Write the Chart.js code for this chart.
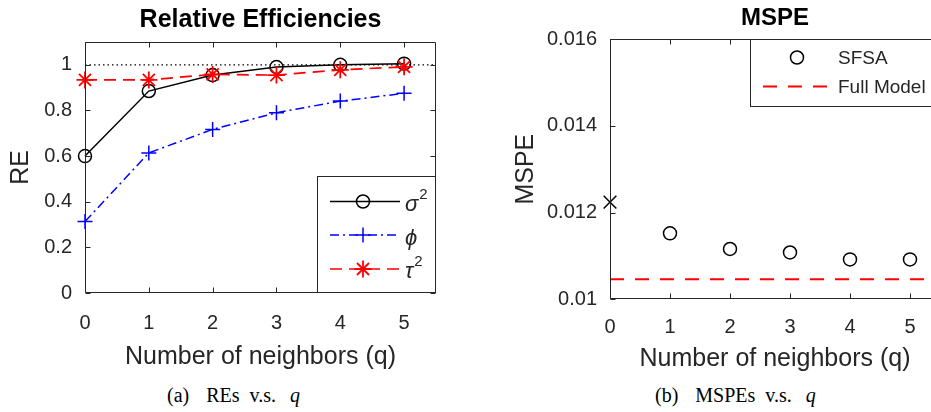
<!DOCTYPE html>
<html><head><meta charset="utf-8">
<script src="https://cdn.jsdelivr.net/npm/chart.js@4.4.1/dist/chart.umd.min.js"></script>
<style>
html,body{margin:0;padding:0;background:#fff;overflow:hidden;width:931px;height:412px;position:relative;}
#c1{position:absolute;left:0;top:0;}
#c2{position:absolute;left:480px;top:0;}
.cap{position:absolute;top:384px;font-family:"Liberation Serif","Times New Roman",serif;font-size:20px;color:#000;white-space:nowrap;line-height:22px;}
.cap i{font-style:italic;}
</style></head><body>
<canvas id="c1" width="465" height="375"></canvas>
<canvas id="c2" width="500" height="375"></canvas>
<div class="cap" style="left:167px">(a)<span style="margin-left:17px">REs</span><span style="margin-left:10px">v.s.</span><span style="margin-left:14px"><i>q</i></span></div>
<div class="cap" style="left:655px">(b)<span style="margin-left:17px">MSPEs</span><span style="margin-left:10px">v.s.</span><span style="margin-left:14px"><i>q</i></span></div>
<script>
// ---------- data ----------
const neighbors = [0, 1, 2, 3, 4, 5];
const xTickLabels = ['0', '1', '2', '3', '4', '5'];
const reSigma2 = [0.600, 0.885, 0.955, 0.990, 1.000, 1.005];
const rePhi    = [0.313, 0.614, 0.717, 0.790, 0.841, 0.875];
const reTau2   = [0.934, 0.934, 0.958, 0.955, 0.978, 0.991];
const reReferenceLevel = 1;
const reTicks = [0, 0.2, 0.4, 0.6, 0.8, 1];
const reTickLabels = ['0', '0.2', '0.4', '0.6', '0.8', '1'];

const sfsaNeighbors = [1, 2, 3, 4, 5];
const mspeSFSA = [0.01152, 0.01116, 0.01108, 0.01092, 0.01092];
const mspeAtZero = 0.01224;
const mspeFullModel = 0.01046;
const mspeTicks = [0.010, 0.012, 0.014, 0.016];
const mspeTickLabels = ['0.01', '0.012', '0.014', '0.016'];

// ---------- style ----------
const FONT = '"Liberation Sans", Arial, Helvetica, sans-serif';
const AX = '#262626';
Chart.defaults.font.family = FONT;
Chart.defaults.color = AX;

function setTicks(values) {
  return (s) => { s.ticks = values.map(v => ({ value: v })); };
}

const mlAxes = {
  id: 'mlAxes',
  afterDatasetsDraw(chart, args, opts) {
    const { ctx, chartArea: a, scales } = chart;
    ctx.save();
    ctx.strokeStyle = AX;
    ctx.lineWidth = 1;
    ctx.setLineDash([]);
    ctx.beginPath();
    const L = Math.round(a.left) + 0.5, R = Math.round(a.right) - 0.5;
    const T = Math.round(a.top) + 0.5, B = Math.round(a.bottom) - 0.5;
    ctx.rect(L, T, R - L, B - T);
    const tl = 5;
    scales.x.ticks.forEach(t => {
      const px = Math.round(scales.x.getPixelForValue(t.value)) + 0.5;
      ctx.moveTo(px, B); ctx.lineTo(px, B - tl);
      ctx.moveTo(px, T); ctx.lineTo(px, T + tl);
    });
    scales.y.ticks.forEach(t => {
      const py = Math.round(scales.y.getPixelForValue(t.value)) + 0.5;
      ctx.moveTo(L, py); ctx.lineTo(L + tl, py);
      ctx.moveTo(R, py); ctx.lineTo(R - tl, py);
    });
    ctx.stroke();
    if (opts.title) {
      ctx.fillStyle = '#000';
      ctx.font = 'bold ' + opts.titleSize + 'px ' + FONT;
      ctx.textAlign = 'center';
      ctx.textBaseline = 'middle';
      ctx.fillText(opts.title, (a.left + a.right) / 2, opts.titleY);
    }
    ctx.restore();
  }
};

const mlLegend = {
  id: 'mlLegend',
  afterDraw(chart, args, opts) {
    if (!opts.box) return;
    const { ctx } = chart;
    const [x1, y1, x2, y2] = opts.box;
    ctx.save();
    ctx.fillStyle = '#fff';
    ctx.fillRect(x1, y1, x2 - x1, y2 - y1);
    ctx.strokeStyle = AX;
    ctx.lineWidth = 1;
    ctx.setLineDash([]);
    ctx.strokeRect(Math.round(x1) + 0.5, Math.round(y1) + 0.5, Math.round(x2 - x1) - 1, Math.round(y2 - y1) - 1);
    opts.items.forEach(it => {
      const ds = chart.data.datasets[it.ds];
      if (it.lineX) {
        ctx.save();
        ctx.strokeStyle = ds.borderColor;
        ctx.lineWidth = ds.borderWidth;
        ctx.setLineDash(ds.borderDash || []);
        ctx.beginPath();
        ctx.moveTo(it.lineX[0], it.y); ctx.lineTo(it.lineX[1], it.y);
        ctx.stroke();
        ctx.restore();
      }
      if (it.markerX !== undefined) {
        ctx.save();
        ctx.strokeStyle = ds.pointBorderColor || ds.borderColor;
        ctx.fillStyle = 'rgba(0,0,0,0)';
        ctx.lineWidth = ds.pointBorderWidth;
        ctx.setLineDash([]);
        Chart.helpers.drawPoint(ctx, { pointStyle: ds.pointStyle, radius: ds.pointRadius, rotation: 0, borderWidth: ds.pointBorderWidth }, it.markerX, it.y);
        ctx.restore();
      }
      ctx.fillStyle = AX;
      ctx.textAlign = 'left';
      ctx.textBaseline = 'middle';
      if (it.greek) {
        ctx.font = 'italic 22px ' + FONT;
        ctx.fillText(it.greek, it.textX, it.y + it.dy);
        const w = ctx.measureText(it.greek).width;
        if (it.sup) {
          ctx.font = '15px ' + FONT;
          ctx.fillText(it.sup, it.textX + w + 1, it.y + it.dy - 10);
        }
      } else {
        ctx.font = '19px ' + FONT;
        ctx.fillText(it.label, it.textX, it.y + 1);
      }
    });
    ctx.restore();
  }
};

// ---------- chart (a) ----------
new Chart(document.getElementById('c1'), {
  type: 'line',
  data: {
    datasets: [
      { label: 'reference', data: [{ x: 0, y: reReferenceLevel }, { x: 5.5, y: reReferenceLevel }],
        borderColor: '#000', borderWidth: 1.3, borderDash: [1.5, 3], pointRadius: 0, order: 4, clip: false },
      { label: 'σ²', data: neighbors.map((q, i) => ({ x: q, y: reSigma2[i] })),
        borderColor: '#000', borderWidth: 1.5, pointStyle: 'circle', pointRadius: 6.5, pointBorderWidth: 1.5,
        pointBorderColor: '#000', pointBackgroundColor: 'rgba(0,0,0,0)', order: 3, clip: false },
      { label: 'φ', data: neighbors.map((q, i) => ({ x: q, y: rePhi[i] })),
        borderColor: '#0000ff', borderWidth: 1.5, borderDash: [9, 4, 2, 4], pointStyle: 'cross', pointRadius: 7.5,
        pointBorderWidth: 1.5, pointBorderColor: '#0000ff', order: 2, clip: false },
      { label: 'τ²', data: neighbors.map((q, i) => ({ x: q, y: reTau2[i] })),
        borderColor: '#ff0000', borderWidth: 1.7, borderDash: [12, 7], pointStyle: 'star', pointRadius: 8.5,
        pointBorderWidth: 1.8, pointBorderColor: '#ff0000', order: 1, clip: false }
    ]
  },
  options: {
    responsive: false, animation: false, events: [],
    layout: { padding: { top: 42, right: 29, left: 0, bottom: 0 } },
    plugins: {
      legend: { display: false }, tooltip: { enabled: false },
      mlAxes: { title: 'Relative Efficiencies', titleY: 20, titleSize: 25 },
      mlLegend: {
        box: [317, 176, 436, 293],
        items: [
          { ds: 1, y: 201.5, lineX: [330, 400], markerX: 363, textX: 405, greek: 'σ', sup: '2', dy: 3 },
          { ds: 2, y: 235, lineX: [330, 400], markerX: 363, textX: 405, greek: 'ϕ', dy: 4 },
          { ds: 3, y: 269, lineX: [330, 400], markerX: 363, textX: 405, greek: 'τ', sup: '2', dy: 3 }
        ]
      }
    },
    scales: {
      x: {
        type: 'linear', min: 0, max: 5.5,
        afterBuildTicks: setTicks(neighbors),
        afterFit: s => { s.height = 375 - 293; },
        ticks: { callback: (v) => xTickLabels[neighbors.indexOf(v)], font: { size: 20 }, color: AX, padding: 18, maxRotation: 0, autoSkip: false },
        grid: { display: false, drawTicks: false }, border: { display: false },
        title: { display: true, text: 'Number of neighbors (q)', font: { size: 25 }, color: AX, padding: { top: 0, bottom: 3 } }
      },
      y: {
        type: 'linear', min: 0, max: 1.1,
        afterBuildTicks: setTicks(reTicks),
        afterFit: s => { s.width = 85; },
        ticks: { callback: (v) => reTickLabels[reTicks.indexOf(v)], font: { size: 20 }, color: AX, padding: 13, autoSkip: false },
        grid: { display: false, drawTicks: false }, border: { display: false },
        title: { display: true, text: 'RE', font: { size: 25 }, color: AX, padding: { top: 6, bottom: 0 } }
      }
    }
  },
  plugins: [mlAxes, mlLegend]
});

// ---------- chart (b) ----------
new Chart(document.getElementById('c2'), {
  type: 'line',
  data: {
    datasets: [
      { label: 'SFSA', data: sfsaNeighbors.map((q, i) => ({ x: q, y: mspeSFSA[i] })), showLine: false,
        borderColor: '#000', borderWidth: 1.5, pointStyle: 'circle', pointRadius: 6.5, pointBorderWidth: 1.5,
        pointBorderColor: '#000', pointBackgroundColor: 'rgba(0,0,0,0)', order: 1, clip: false },
      { label: 'Full Model', data: [{ x: 0, y: mspeFullModel }, { x: 5.5, y: mspeFullModel }],
        borderColor: '#ff0000', borderWidth: 2, borderDash: [14, 11], pointRadius: 0, order: 2, clip: false },
      { label: 'q=0', data: [{ x: 0, y: mspeAtZero }], showLine: false,
        borderColor: '#000', borderWidth: 1.5, pointStyle: 'crossRot', pointRadius: 9, pointBorderWidth: 1.5,
        pointBorderColor: '#000', order: 0, clip: false }
    ]
  },
  options: {
    responsive: false, animation: false, events: [],
    layout: { padding: { top: 39, right: 40, left: 0, bottom: 0 } },
    plugins: {
      legend: { display: false }, tooltip: { enabled: false },
      mlAxes: { title: 'MSPE', titleY: 18, titleSize: 24 },
      mlLegend: {
        box: [270, 39, 470, 107],
        items: [
          { ds: 0, y: 57.5, markerX: 317, textX: 358, label: 'SFSA' },
          { ds: 1, y: 86.5, lineX: [283, 350], textX: 358, label: 'Full Model' }
        ]
      }
    },
    scales: {
      x: {
        type: 'linear', min: 0, max: 5.5,
        afterBuildTicks: setTicks(neighbors),
        afterFit: s => { s.height = 375 - 299.3; },
        ticks: { callback: (v) => xTickLabels[neighbors.indexOf(v)], font: { size: 20 }, color: AX, padding: 16, maxRotation: 0, autoSkip: false },
        grid: { display: false, drawTicks: false }, border: { display: false },
        title: { display: true, text: 'Number of neighbors (q)', font: { size: 25 }, color: AX, padding: { top: 0, bottom: 1 } }
      },
      y: {
        type: 'linear', min: 0.010, max: 0.016,
        afterBuildTicks: setTicks(mspeTicks),
        afterFit: s => { s.width = 130; },
        ticks: { callback: (v) => mspeTickLabels[mspeTicks.indexOf(v)], font: { size: 20 }, color: AX, padding: 13, autoSkip: false },
        grid: { display: false, drawTicks: false }, border: { display: false },
        title: { display: true, text: 'MSPE', font: { size: 25 }, color: AX, padding: { top: 31, bottom: 0 } }
      }
    }
  },
  plugins: [mlAxes, mlLegend]
});
</script>
</body></html>
